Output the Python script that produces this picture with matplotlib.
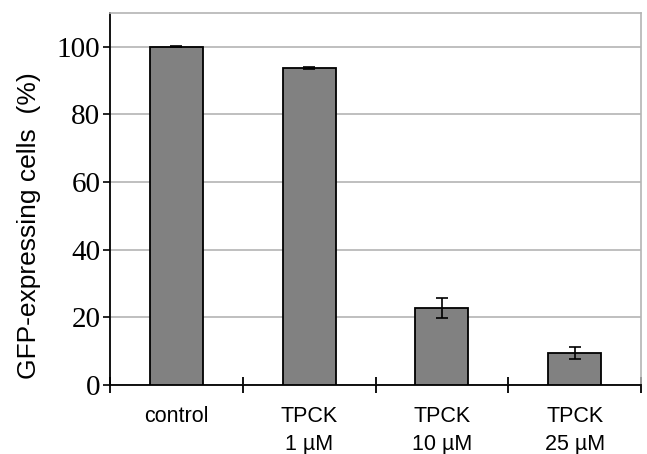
import numpy as np
import matplotlib.pyplot as plt

# Data
categories = ["control", "TPCK\n1 \u00b5M", "TPCK\n10 \u00b5M", "TPCK\n25 \u00b5M"]
values = [100.0, 93.8, 22.7, 9.4]
errors = [0.2, 0.3, 3.0, 1.8]
y_ticks = [0, 20, 40, 60, 80, 100]


def main():
    fig = plt.figure(figsize=(6.47, 4.54), dpi=100)
    ax = fig.add_axes([110 / 647, 1 - 385 / 454, 531 / 647, 372 / 454])

    x = np.arange(len(categories))
    ax.bar(x, values, width=0.4, color="#818181", edgecolor="black", linewidth=1.3, zorder=3)
    ax.errorbar(x, values, yerr=errors, fmt="none", ecolor="black", elinewidth=1.2,
                capsize=4, capthick=1.2, zorder=4)

    ax.set_xlim(-0.5, len(categories) - 0.5)
    ax.set_ylim(0, 110)

    # grid lines
    ax.set_yticks(y_ticks)
    ax.yaxis.grid(True, color="#b4b4b4", linewidth=1.2, zorder=0)
    ax.set_axisbelow(True)

    ax.spines["top"].set_color("#b4b4b4")
    ax.spines["right"].set_color("#b4b4b4")
    ax.spines["top"].set_linewidth(1.2)
    ax.spines["right"].set_linewidth(1.2)
    ax.spines["left"].set_linewidth(1.3)
    ax.spines["bottom"].set_linewidth(1.3)

    ax.set_yticklabels([str(t) for t in y_ticks], family="Liberation Serif", fontsize=21)
    ax.tick_params(axis="y", direction="out", length=5, width=1.2, pad=2)

    # x ticks at category boundaries, labels at centers
    ax.set_xticks(np.arange(-0.5, len(categories), 1.0))
    ax.set_xticklabels([])
    ax.set_xticks(x, minor=True)
    ax.set_xticklabels(categories, minor=True, family="Liberation Sans", fontsize=15.5,
                       linespacing=1.45)
    ax.tick_params(axis="x", which="major", direction="inout", length=12, width=1.3)
    ax.tick_params(axis="x", which="minor", length=0, pad=15)
    for lbl in ax.get_xticklabels(minor=True):
        lbl.set_verticalalignment("top")

    fig.text(29 / 647, 1 - 226 / 454, "GFP-expressing cells  (%)", family="Liberation Sans",
             fontsize=19, rotation=90, ha="center", va="center")

    fig.savefig("out.png", dpi=100)


if __name__ == "__main__":
    main()
